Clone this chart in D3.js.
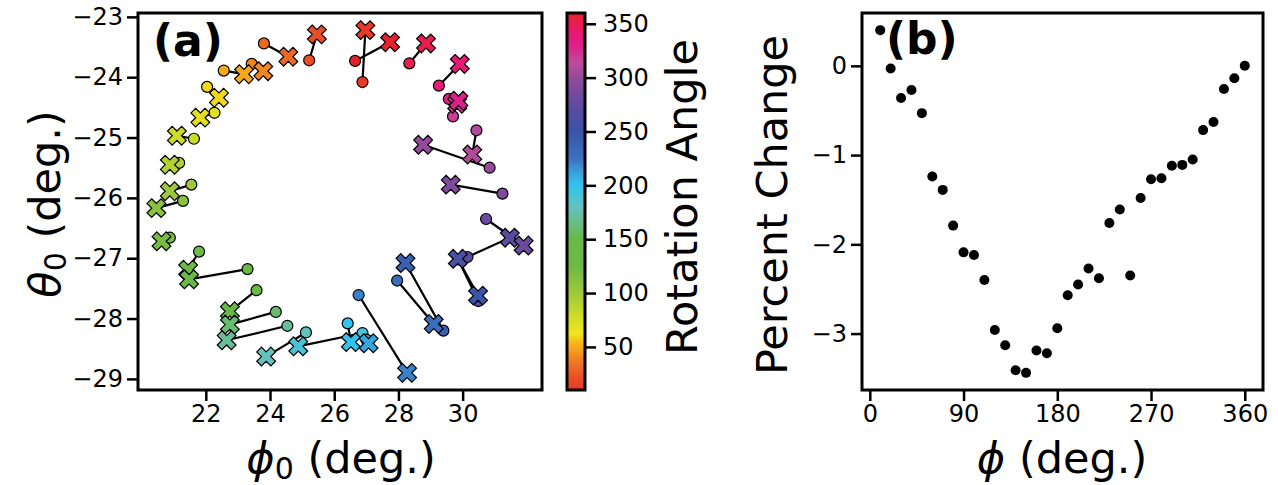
<!DOCTYPE html>
<html>
<head>
<meta charset="utf-8">
<script src="https://cdn.jsdelivr.net/npm/d3@7"></script>
<style>
  body { margin: 0; background: #fff; }
  text { font-family: "DejaVu Sans", sans-serif; fill: #000; }
</style>
</head>
<body>
<svg id="fig" width="1278" height="485"></svg>
<script>
// rotation angle of each run (deg.)
var angles = [10, 20, 30, 40, 50, 60, 70, 80, 90, 100, 110, 120, 130, 140, 150, 160, 170, 180,
              190, 200, 210, 220, 230, 240, 250, 260, 270, 280, 290, 300, 310, 320, 330, 340, 350, 360];

// (a) X marker position
var phiX = [26.97, 25.46, 24.57, 23.79, 23.19, 22.41, 21.83, 21.10, 20.88, 20.88, 20.46, 20.62,
            21.45, 21.48, 22.75, 22.75, 22.65, 23.88, 24.88, 26.52, 27.07, 28.27, 29.10, 28.22,
            30.48, 29.85, 31.47, 31.90, 29.63, 28.77, 30.30, 29.83, 29.87, 29.91, 28.86, 27.74];
var thetaX = [-23.22, -23.29, -23.66, -23.90, -23.95, -24.34, -24.67, -24.97, -25.45, -25.89, -26.17, -26.72,
              -27.19, -27.35, -27.88, -28.10, -28.36, -28.63, -28.46, -28.39, -28.41, -28.90, -28.09, -27.08,
              -27.62, -27.01, -26.66, -26.79, -25.78, -25.12, -25.28, -24.44, -24.39, -23.78, -23.44, -23.42];
// (a) circle marker position
var phiC = [26.88, 25.22, 23.81, 23.43, 22.56, 22.04, 22.27, 21.63, 21.17, 21.55, 21.29, 20.88,
            21.79, 23.30, 23.58, 24.18, 24.54, 25.12, 26.88, 26.42, 27.00, 26.76, 27.96, 29.40,
            29.86, 30.49, 30.15, 30.73, 31.24, 30.84, 30.43, 29.70, 29.57, 29.26, 28.34, 26.65];
var thetaC = [-24.08, -23.72, -23.44, -23.78, -23.89, -24.16, -24.59, -25.02, -25.42, -25.78, -26.05, -26.66,
              -26.89, -27.18, -27.53, -27.89, -28.12, -28.23, -28.24, -28.08, -28.35, -27.61, -27.37, -28.20,
              -27.02, -27.71, -26.98, -26.35, -25.93, -25.50, -24.88, -24.65, -24.36, -24.14, -23.77, -23.73];

// (b)
var phiB = angles;
var pctChange = [0.40, -0.03, -0.36, -0.27, -0.53, -1.24, -1.39, -1.79, -2.09, -2.12, -2.40, -2.96,
                 -3.13, -3.41, -3.44, -3.19, -3.22, -2.94, -2.57, -2.45, -2.27, -2.38, -1.76, -1.61,
                 -2.35, -1.48, -1.27, -1.26, -1.12, -1.11, -1.05, -0.72, -0.63, -0.26, -0.14, 0.00];

var ticksPhi0 = [22, 24, 26, 28, 30];
var ticksTheta0 = [-23, -24, -25, -26, -27, -28, -29];
var ticksCbar = [50, 100, 150, 200, 250, 300, 350];
var ticksPhi = [0, 90, 180, 270, 360];
var ticksPct = [0, -1, -2, -3];

// colour map stops
var cmapAngles = [10, 20, 37, 53, 62, 78, 100, 125, 150, 165, 180, 200, 210, 224, 249, 271, 296, 315, 330, 342, 352, 360];
var cmapColors = ["#e63a2a", "#ea4c27", "#f07a22", "#f8b41a", "#f2e41c", "#cfdc2a", "#9ec83a", "#6db944",
                  "#68b848", "#6abd84", "#62c2c0", "#30c4f0", "#38a6de", "#3a74c2", "#3a55a8", "#5a4aa0",
                  "#8a4a9c", "#c04a9a", "#e01f8a", "#e81870", "#e81e48", "#e8202c"];

var color = d3.scaleLinear().domain(cmapAngles).range(cmapColors).interpolate(d3.interpolateRgb);
var fmt = d3.format("d");

var svg = d3.select("#fig");

// matplotlib style 5% margins
function pad(ext) { var d = (ext[1] - ext[0]) * 0.05; return [ext[0] - d, ext[1] + d]; }

function styleAxis(g) {
  g.attr("font-size", null).attr("font-family", null);
  g.select(".domain").remove();
  g.selectAll(".tick line").attr("stroke", "#000").attr("stroke-width", 2.5);
  g.selectAll(".tick text").attr("font-size", 24).attr("fill", "#000");
}

/* ---------- panel (a) ---------- */
var A = {l: 138, r: 542, t: 13, b: 390};
var xa = d3.scaleLinear().domain(pad(d3.extent(phiX.concat(phiC)))).range([A.l, A.r]);
var ya = d3.scaleLinear().domain(pad(d3.extent(thetaX.concat(thetaC)))).range([A.b, A.t]);

svg.append("g").attr("transform", "translate(0," + A.b + ")")
  .call(d3.axisBottom(xa).tickValues(ticksPhi0).tickFormat(fmt).tickSize(11).tickPadding(4)).call(styleAxis);
svg.append("g").attr("transform", "translate(" + A.l + ",0)")
  .call(d3.axisLeft(ya).tickValues(ticksTheta0).tickFormat(fmt).tickSize(11).tickPadding(4)).call(styleAxis);

var ga = svg.append("g");
ga.selectAll("line.pair").data(angles).enter().append("line")
  .attr("x1", function (d, i) { return xa(phiC[i]); })
  .attr("y1", function (d, i) { return ya(thetaC[i]); })
  .attr("x2", function (d, i) { return xa(phiX[i]); })
  .attr("y2", function (d, i) { return ya(thetaX[i]); })
  .attr("stroke", "#000").attr("stroke-width", 2.2);

ga.selectAll("circle").data(angles).enter().append("circle")
  .attr("cx", function (d, i) { return xa(phiC[i]); })
  .attr("cy", function (d, i) { return ya(thetaC[i]); })
  .attr("r", 5.5)
  .attr("fill", function (d) { return color(d); })
  .attr("stroke", "#000").attr("stroke-width", 1.2);

var xsym = d3.symbol().type(d3.symbolCross).size(220);
ga.selectAll("path.xm").data(angles).enter().append("path")
  .attr("class", "xm")
  .attr("d", xsym)
  .attr("transform", function (d, i) { return "translate(" + xa(phiX[i]) + "," + ya(thetaX[i]) + ") rotate(45)"; })
  .attr("fill", function (d) { return color(d); })
  .attr("stroke", "#000").attr("stroke-width", 1.2);

svg.append("rect").attr("x", A.l).attr("y", A.t).attr("width", A.r - A.l).attr("height", A.b - A.t)
  .attr("fill", "none").attr("stroke", "#000").attr("stroke-width", 3);

svg.append("text").attr("x", 153).attr("y", 56).attr("font-size", 44).attr("font-weight", "bold").text("(a)");

var lx = svg.append("text").attr("x", 341).attr("y", 473).attr("font-size", 43).attr("text-anchor", "middle");
lx.append("tspan").attr("font-style", "italic").text("ϕ");
lx.append("tspan").attr("font-size", 30).attr("dy", 6).text("0");
lx.append("tspan").attr("dy", -6).text(" (deg.)");

var ly = svg.append("text").attr("transform", "translate(60,204) rotate(-90)")
  .attr("font-size", 43).attr("text-anchor", "middle");
ly.append("tspan").attr("font-style", "italic").text("θ");
ly.append("tspan").attr("font-size", 30).attr("dy", 6).text("0");
ly.append("tspan").attr("dy", -6).text(" (deg.)");

/* ---------- colour bar ---------- */
var C = {l: 567, r: 585, t: 13, b: 390};
var yc = d3.scaleLinear().domain([10, 360]).range([C.b, C.t]);
var grad = svg.append("defs").append("linearGradient").attr("id", "cbar")
  .attr("x1", 0).attr("y1", 1).attr("x2", 0).attr("y2", 0);
grad.selectAll("stop").data(cmapAngles).enter().append("stop")
  .attr("offset", function (d) { return (d - 10) / 350; })
  .attr("stop-color", function (d, i) { return cmapColors[i]; });
svg.append("rect").attr("x", C.l).attr("y", C.t).attr("width", C.r - C.l).attr("height", C.b - C.t)
  .attr("fill", "url(#cbar)").attr("stroke", "#000").attr("stroke-width", 3);
svg.append("g").attr("transform", "translate(" + C.r + ",0)")
  .call(d3.axisRight(yc).tickValues(ticksCbar).tickFormat(fmt).tickSize(11).tickPadding(7)).call(styleAxis);
svg.append("text").attr("transform", "translate(697,197) rotate(-90)")
  .attr("font-size", 43).attr("text-anchor", "middle").text("Rotation Angle");

/* ---------- panel (b) ---------- */
var B = {l: 862, r: 1263, t: 13, b: 390};
var xb = d3.scaleLinear().domain(pad(d3.extent(phiB))).range([B.l, B.r]);
var yb = d3.scaleLinear().domain(pad(d3.extent(pctChange))).range([B.b, B.t]);

svg.append("g").attr("transform", "translate(0," + B.b + ")")
  .call(d3.axisBottom(xb).tickValues(ticksPhi).tickFormat(fmt).tickSize(11).tickPadding(4)).call(styleAxis);
svg.append("g").attr("transform", "translate(" + B.l + ",0)")
  .call(d3.axisLeft(yb).tickValues(ticksPct).tickFormat(fmt).tickSize(11).tickPadding(4)).call(styleAxis);

svg.append("g").selectAll("circle").data(pctChange).enter().append("circle")
  .attr("cx", function (d, i) { return xb(phiB[i]); })
  .attr("cy", function (d) { return yb(d); })
  .attr("r", 5).attr("fill", "#000");

svg.append("rect").attr("x", B.l).attr("y", B.t).attr("width", B.r - B.l).attr("height", B.b - B.t)
  .attr("fill", "none").attr("stroke", "#000").attr("stroke-width", 3);

svg.append("text").attr("x", 886).attr("y", 54).attr("font-size", 44).attr("font-weight", "bold").text("(b)");

var lxb = svg.append("text").attr("x", 1062).attr("y", 473).attr("font-size", 43).attr("text-anchor", "middle");
lxb.append("tspan").attr("font-style", "italic").text("ϕ");
lxb.append("tspan").text(" (deg.)");

svg.append("text").attr("transform", "translate(787,205) rotate(-90)")
  .attr("font-size", 43).attr("text-anchor", "middle").text("Percent Change");
</script>
</body>
</html>
